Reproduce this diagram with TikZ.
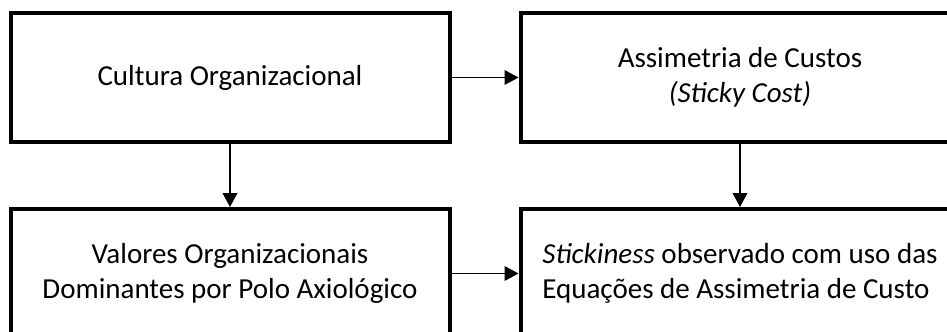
\documentclass[tikz,border=0pt]{standalone}
\usepackage{fontspec}
\setmainfont{Carlito}
\usetikzlibrary{arrows.meta}

\begin{document}
\begin{tikzpicture}[x=0.75pt, y=-0.75pt, >={Triangle[length=10.5pt, width=11pt]}]

  \tikzstyle{bloco}=[draw, rectangle, line width=3pt, minimum width=329.25pt, minimum height=96.75pt, font=\fontsize{21.75}{26.25}\selectfont]
  \tikzstyle{seta}=[->, line width=1.1pt]

  \useasboundingbox (0,0) rectangle (947,332);
  \clip (0,0) rectangle (947,332);

  % Blocos
  \node[bloco, align=center] (cultura) at (230,77.5) {Cultura Organizacional};
  \node[bloco, align=center] (assim) at (740,77.5) {Assimetria de Custos\\\textit{(Sticky Cost)}};
  \node[bloco, align=center] (valores) at (230,273.5) {Valores Organizacionais\\Dominantes por Polo Axiológico};
  \node[bloco, align=left] (sticky) at (740,273.5) {\textit{Stickiness} observado com uso das\\Equações de Assimetria de Custo};

  % Setas
  \draw[seta] (cultura) -- (assim);
  \draw[seta] (valores) -- (sticky);
  \draw[seta] (cultura) -- (valores);
  \draw[seta] (assim) -- (sticky);

\end{tikzpicture}
\end{document}
